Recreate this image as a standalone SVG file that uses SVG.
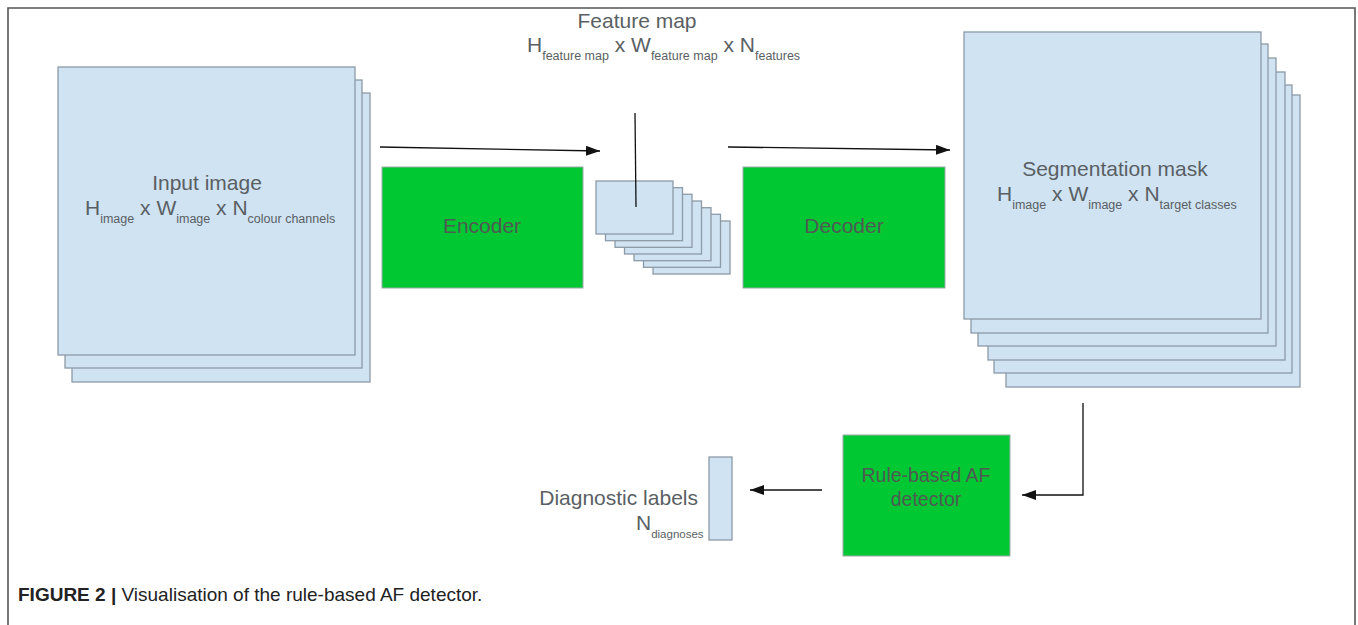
<svg xmlns="http://www.w3.org/2000/svg" width="1358" height="625" viewBox="0 0 1358 625">
<defs>
<style>
.t{font-family:"Liberation Sans",Arial,sans-serif;font-size:21px;fill:#5a5f64}
.s{font-size:12.5px}
.blue{fill:#cfe3f2;stroke:#8c9aa6;stroke-width:1.3}
.green{fill:#00c832;stroke:#9aa;stroke-width:1}
.gt{font-family:"Liberation Sans",Arial,sans-serif;font-size:21px;fill:#4f5a52;text-anchor:middle}
.gs{font-size:19.5px}
.ln{stroke:#111;stroke-width:1.3;fill:none}
.cap{font-family:"Liberation Sans",Arial,sans-serif;font-size:19px;fill:#222}
.ss{font-size:11.5px}
</style>
<marker id="ah" viewBox="0 0 14 10" refX="14" refY="5" markerWidth="14" markerHeight="10" markerUnits="userSpaceOnUse" orient="auto">
<path d="M0,0 L14,5 L0,10 z" fill="#111"/>
</marker>
</defs>
<rect width="1358" height="625" fill="#fff"/>
<path d="M8,625 V8 H1355 V625" fill="none" stroke="#555" stroke-width="1.6"/>

<g id="input-image">
<rect class="blue" x="72" y="93" width="298" height="289"/>
<rect class="blue" x="65" y="80" width="297" height="288"/>
<rect class="blue" x="58" y="67" width="297" height="288"/>
<text class="t" x="207" y="190" text-anchor="middle">Input image</text>
<text class="t" x="85" y="215">H<tspan class="s" dy="8">image</tspan><tspan dy="-8"> x W</tspan><tspan class="s" dy="8">image</tspan><tspan dy="-8"> x N</tspan><tspan class="s" dy="8">colour channels</tspan></text>
</g>

<g id="encoder">
<rect class="green" x="382" y="167" width="201" height="121"/>
<text class="gt" x="482" y="233">Encoder</text>
</g>

<g id="feature-map">
<rect class="blue" x="653" y="221" width="77" height="53"/>
<rect class="blue" x="643.5" y="214.3" width="77" height="53"/>
<rect class="blue" x="634" y="207.7" width="77" height="53"/>
<rect class="blue" x="624.5" y="201" width="77" height="53"/>
<rect class="blue" x="615" y="194.3" width="77" height="53"/>
<rect class="blue" x="605.5" y="187.7" width="77" height="53"/>
<rect class="blue" x="596" y="181" width="77" height="53"/>
<text class="t" x="637" y="28" text-anchor="middle">Feature map</text>
<text class="t" x="527" y="52">H<tspan class="s" dy="8">feature map</tspan><tspan dy="-8"> x W</tspan><tspan class="s" dy="8">feature map</tspan><tspan dy="-8"> x N</tspan><tspan class="s" dy="8">features</tspan></text>
</g>

<g id="decoder">
<rect class="green" x="743" y="167" width="202" height="121"/>
<text class="gt" x="844" y="233">Decoder</text>
</g>

<g id="segmentation-mask">
<rect class="blue" x="1006" y="95" width="294" height="292"/>
<rect class="blue" x="994" y="85" width="298" height="288"/>
<rect class="blue" x="988" y="72" width="297" height="288"/>
<rect class="blue" x="978" y="58" width="298" height="288"/>
<rect class="blue" x="971" y="44" width="297" height="289"/>
<rect class="blue" x="964" y="32" width="297" height="287"/>
<text class="t" x="1115" y="176" text-anchor="middle">Segmentation mask</text>
<text class="t" x="997" y="201">H<tspan class="s" dy="8">image</tspan><tspan dy="-8"> x W</tspan><tspan class="s" dy="8">image</tspan><tspan dy="-8"> x N</tspan><tspan class="s" dy="8">target classes</tspan></text>
</g>

<g id="rule-based-detector">
<rect class="green" x="843" y="435" width="167" height="121"/>
<text class="gt gs" x="926" y="482">Rule-based AF</text>
<text class="gt gs" x="926" y="506">detector</text>
</g>

<g id="diagnostic-labels">
<rect class="blue" x="709" y="457" width="23" height="83"/>
<text class="t" x="698" y="505" text-anchor="end">Diagnostic labels</text>
<text class="t" x="636" y="530">N<tspan class="ss" dy="8">diagnoses</tspan></text>
</g>

<g id="connectors">
<line class="ln" x1="380" y1="147" x2="600" y2="151" marker-end="url(#ah)"/>
<line class="ln" x1="728" y1="147" x2="950" y2="150" marker-end="url(#ah)"/>
<line class="ln" x1="635" y1="113" x2="636" y2="207"/>
<path class="ln" d="M1083,403 V495 H1022" marker-end="url(#ah)"/>
<line class="ln" x1="822" y1="490" x2="750" y2="490" marker-end="url(#ah)"/>
</g>

<text class="cap" x="18" y="601"><tspan font-weight="bold">FIGURE 2 | </tspan>Visualisation of the rule-based AF detector.</text>
</svg>
